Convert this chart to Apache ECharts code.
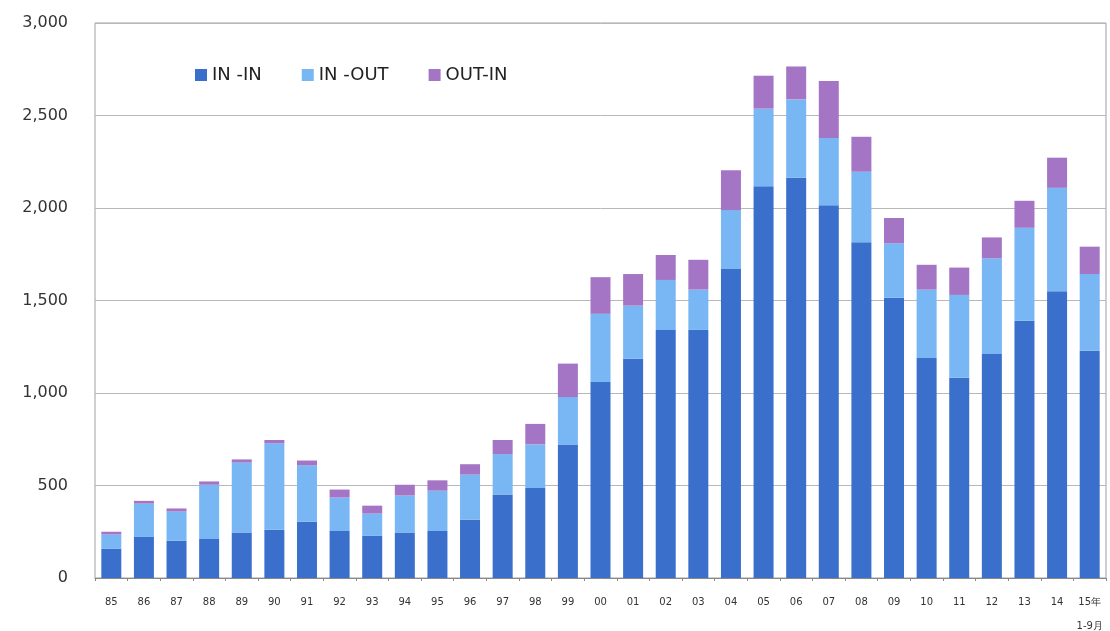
<!DOCTYPE html>
<html><head><meta charset="utf-8">
<script src="https://cdn.jsdelivr.net/npm/echarts@6/dist/echarts.min.js"></script>
<style>html,body{margin:0;padding:0;background:#fff}#c{width:1110px;height:631px}</style>
</head><body><div id="c"></div>
<script>
const categories = ['85','86','87','88','89','90','91','92','93','94','95','96','97','98','99','00','01','02','03','04','05','06','07','08','09','10','11','12','13','14','15年\n1-9月'];
const inIn  = [159,222,202,211,246,261,304,254,228,246,254,315,452,487,722,1059,1185,1341,1341,1670,2117,2163,2015,1815,1515,1189,1083,1211,1391,1550,1228];
const inOut = [76,180,157,293,378,467,305,181,120,200,218,244,218,235,256,369,287,270,218,319,420,424,363,381,294,370,447,517,502,559,415];
const outIn = [15,15,17,18,17,18,26,43,43,58,56,56,76,111,181,198,171,135,161,215,178,178,309,189,137,134,148,113,146,163,148];
const yTicks = [0,500,1000,1500,2000,2500,3000];

const chart = echarts.init(document.getElementById('c'));
const font = 'Verdana, "DejaVu Sans", sans-serif';
chart.setOption({
  animation: false,
  grid: {left: 95, right: 4, top: 23, bottom: 53, outerBoundsMode: 'none', containLabel: false, show: true, borderColor: '#a0a0a0', borderWidth: 1, backgroundColor: 'transparent'},
  legend: {
    left: 190, top: 61, itemWidth: 12, itemHeight: 12, itemGap: 40, icon: 'rect',
    textStyle: {fontFamily: font, fontSize: 18, color: '#222'},
    data: ['IN -IN', 'IN -OUT', 'OUT-IN']
  },
  xAxis: {
    type: 'category', data: categories,
    axisLine: {lineStyle: {color: '#888'}},
    axisTick: {show: true, length: 3, lineStyle: {color: '#888'}},
    axisLabel: {fontFamily: font, fontSize: 10, color: '#333', margin: 12, interval: 0, lineHeight: 24, verticalAlign: 'top',
      formatter: function (v) { return v; }}
  },
  yAxis: {
    type: 'value', min: yTicks[0], max: yTicks[yTicks.length - 1], interval: 500,
    axisLine: {show: false}, axisTick: {show: false},
    splitLine: {lineStyle: {color: '#b8b8b8', width: 1}},
    axisLabel: {fontFamily: font, fontSize: 16, color: '#333', margin: 27,
      formatter: function (v) { return v.toLocaleString('en-US'); }}
  },
  series: [
    {name: 'IN -IN', type: 'bar', stack: 's', data: inIn, barWidth: 20, itemStyle: {color: '#3b6fcc'}},
    {name: 'IN -OUT', type: 'bar', stack: 's', data: inOut, itemStyle: {color: '#78b6f4'}},
    {name: 'OUT-IN', type: 'bar', stack: 's', data: outIn, itemStyle: {color: '#a575c5'}}
  ]
});
</script></body></html>
